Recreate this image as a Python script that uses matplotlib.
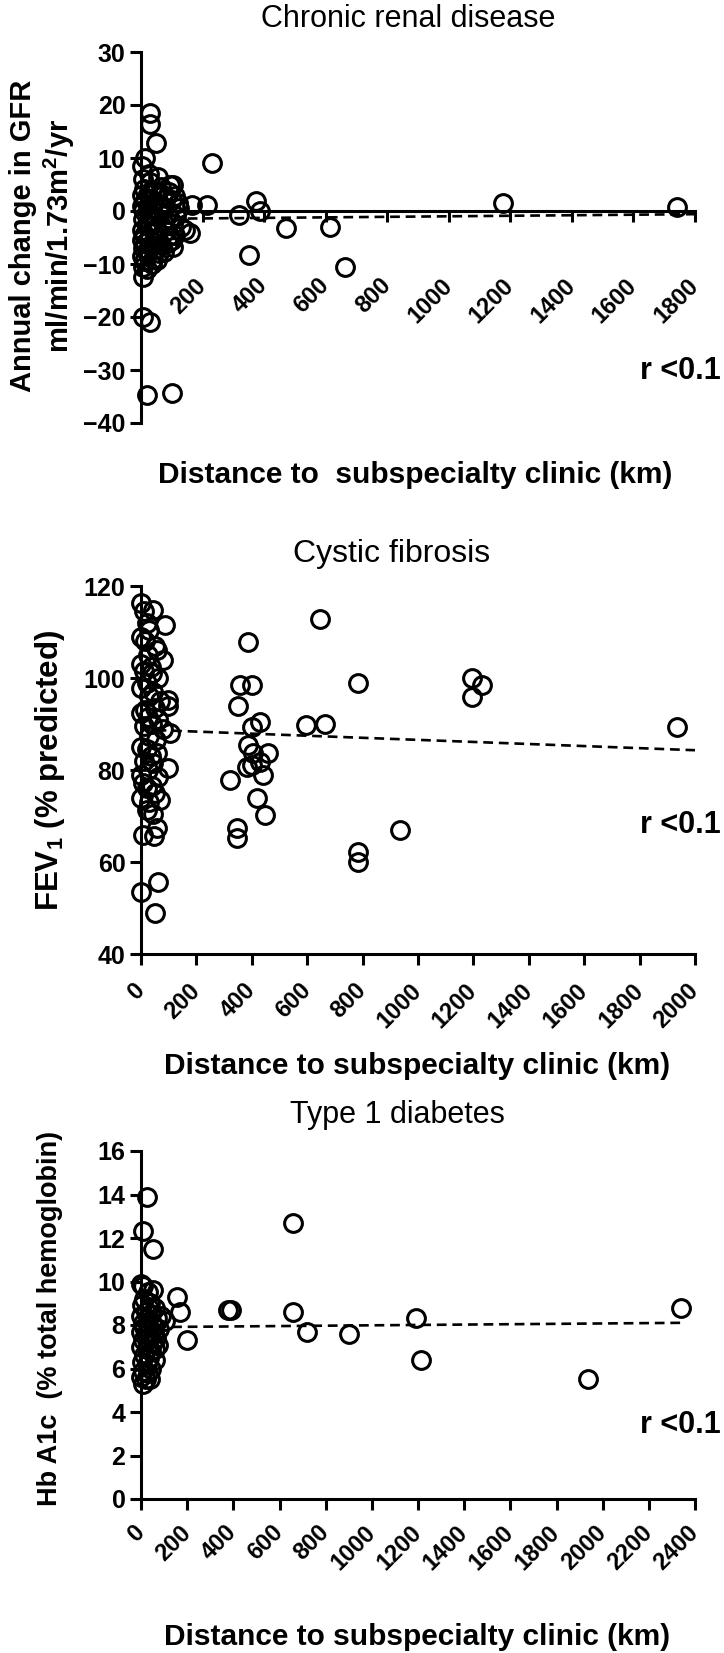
import matplotlib
matplotlib.use("Agg")
import matplotlib.pyplot as plt
from matplotlib.transforms import ScaledTranslation

plt.rcParams['font.family'] = ['Liberation Sans', 'DejaVu Sans']
plt.rcParams['mathtext.fontset'] = 'custom'
plt.rcParams['mathtext.rm'] = 'Liberation Sans'
plt.rcParams['mathtext.bf'] = 'Liberation Sans:bold'

W, H = 724, 1653

# chronic renal disease: distance (km) vs annual change in GFR
crd_km = [30, 30, 50, 3, 12, 6, 55, 25, 105, 95,
          30, 65, 10, 35, 45, 90, 4, 70, 22, 110,
          80, 28, 12, 100, 40, 120, 165, 213, 2, 60,
          75, 33, 125, 8, 26, 15, 85, 45, 115, 5,
          95, 38, 70, 18, 105, 30, 130, 50, 3, 143,
          80, 42, 160, 9, 110, 90, 27, 2, 55, 100,
          14, 88, 36, 65, 105, 6, 48, 20, 75, 60,
          4, 40, 52, 11, 35, 5, 20, 8, 7, 28,
          19, 100, 230, 320, 375, 387, 470, 615, 350, 663,
          1175, 1743]
crd_gfr = [18.5, 16.5, 12.8, 8.5, 10.0, 6.0, 6.5, 7.0, 5.0, 5.0,
           5.5, 4.5, 4.2, 4.0, 3.5, 3.5, 3.0, 3.0, 3.2, 2.8,
           2.5, 2.2, 2.0, 2.0, 1.5, 1.5, 1.2, 1.1, 1.0, 1.0,
           0.8, 0.5, 0.5, 0.2, -0.3, -0.5, -0.5, -1.0, -1.0, -1.5,
           -1.5, -1.8, -2.0, -2.5, -2.5, -2.8, -3.0, -3.2, -3.5, -3.6,
           -3.8, -4.0, -4.2, -4.5, -4.5, -4.8, -5.0, -5.5, -5.5, -5.5,
           -6.0, -6.0, -6.5, -6.5, -6.8, -7.0, -7.2, -7.5, -7.8, -8.0,
           -8.5, -9.0, -9.3, -9.5, -10.0, -10.5, -11.0, -12.5, -20.0, -21.0,
           -34.8, -34.4, 9.1, -0.8, 1.8, 0.0, -3.2, -3.0, -8.3, -10.5,
           1.5, 0.8]
crd_fit_km = [0, 1800]
crd_fit = [-1.5, -0.6]
crd_ticks = [''] + [str(v) for v in range(200, 1801, 200)]

# cystic fibrosis: distance (km) vs FEV1 % predicted
cf_km = [0, 10, 43, 20, 87, 30, 0, 15, 50, 58,
         25, 80, 0, 35, 10, 40, 60, 20, 0, 45,
         30, 98, 98, 70, 0, 15, 50, 25, 62, 40,
         10, 80, 105, 30, 55, 0, 20, 58, 35, 10,
         45, 98, 25, 0, 60, 8, 40, 20, 50, 0,
         69, 30, 22, 45, 8, 58, 47, 0, 62, 51,
         646, 387, 357, 400, 351, 430, 400, 596, 664, 387,
         405, 460, 400, 430, 321, 382, 441, 418, 448, 346,
         346, 783, 1195, 1230, 1195, 1935, 935, 783, 783]
cf_fev1 = [116.3, 114.5, 114.8, 112, 111.5, 110.5, 109, 108, 107, 106,
           105, 104, 103, 102.5, 101.5, 101, 100, 99, 97.8, 97,
           96, 95.2, 94, 95, 92.4, 93, 93.5, 91.5, 91, 90,
           89.5, 89, 88, 87.5, 86.5, 85, 84.5, 83.7, 83, 82,
           81.5, 80.4, 80, 79, 78.5, 77.2, 76.5, 76, 75, 74,
           73.5, 73, 71.3, 70.5, 65.9, 67.4, 65.7, 53.5, 55.7, 49,
           112.8, 107.8, 98.5, 98.5, 94, 90.4, 89.3, 89.8, 90, 85.4,
           83.6, 83.6, 81, 81.7, 77.8, 80.7, 79, 74, 70.2, 67.3,
           65.2, 98.9, 100, 98.5, 95.9, 89.3, 67, 62.2, 60]
cf_fit_km = [0, 2000]
cf_fit = [88.8, 84.3]
cf_ticks = [str(v) for v in range(0, 2001, 200)]

# type 1 diabetes: distance (km) vs Hb A1c
t1d_km = [25, 10, 52, 0, 52, 155, 169, 198, 375, 390,
          660, 660, 718, 899, 1193, 1214, 1938, 2339,
          8, 30, 15, 5, 40, 60, 20, 0, 45, 70,
          104, 10, 30, 55, 80, 0, 20, 40, 65, 10,
          50, 75, 0, 25, 45, 15, 35, 60, 5, 25,
          45, 10, 30, 0, 20, 40, 8, 55, 85, 35,
          12, 62, 28, 48]
t1d_hba1c = [13.9, 12.3, 11.5, 9.9, 9.6, 9.3, 8.6, 7.3, 8.7, 8.7,
             12.7, 8.6, 7.7, 7.6, 8.3, 6.4, 5.5, 8.8,
             9.8, 9.5, 9.2, 8.9, 9.0, 8.8, 8.6, 8.4, 8.5, 8.3,
             8.2, 8.1, 8.0, 7.9, 7.8, 7.7, 7.6, 7.5, 7.4, 7.3,
             7.2, 7.1, 7.0, 6.9, 6.8, 6.6, 6.5, 6.4, 6.3, 6.2,
             6.0, 5.9, 5.8, 5.6, 5.5, 5.5, 5.3, 7.6, 8.4, 8.8,
             7.9, 6.9, 7.3, 8.1]
t1d_fit_km = [0, 2340]
t1d_fit = [7.9, 8.1]
t1d_ticks = [str(v) for v in range(0, 2401, 200)]


def fx(x):
    return x / W


def fy(y):
    return 1 - y / H


def _panel(fig, top, bottom, xs, ys, fit_x, fit_y, xmax, ylim, ystep,
           xlabels, drop_px, zero_spine=False):
    ax = fig.add_axes([fx(141), fy(bottom), fx(554), (bottom - top) / H])
    ax.spines[['top', 'right']].set_visible(False)
    axis_y = ylim[0]
    if zero_spine:
        ax.spines['bottom'].set_position(('data', 0))
        axis_y = 0
    for s in ('left', 'bottom'):
        ax.spines[s].set_linewidth(2.2)

    ax.plot(fit_x, fit_y, color='black', lw=1.9, dashes=(3.7, 2.2), zorder=2)
    ax.plot(xs, ys, 'o', mfc='none', mec='black', ms=12.8, mew=2.2,
            clip_on=False, zorder=3)
    ax.set_xlim(0, xmax)
    ax.set_ylim(*ylim)
    ax.set_yticks(range(ylim[0], ylim[1] + 1, ystep))
    xt = list(range(0, xmax + 1, 200))
    ax.set_xticks(xt)
    for lbl in ax.get_yticklabels():
        lbl.set_fontweight('bold')
    ax.tick_params(width=2.2, length=7.7, labelsize=18)
    ax.tick_params(axis='x', labelbottom=False)

    # rotated distance labels hang below the axis line
    drop = ScaledTranslation(0, -drop_px / 100, fig.dpi_scale_trans)
    for t, s in zip(xt, xlabels):
        ax.text(t, axis_y, s, transform=ax.transData + drop, rotation=45,
                rotation_mode='anchor', ha='right', va='center',
                fontsize=17, fontweight='bold', clip_on=False)
    return ax


fig = plt.figure(figsize=(W / 100, H / 100), dpi=100)

ax1 = _panel(fig, 52, 423, crd_km, crd_gfr, crd_fit_km, crd_fit,
             1800, (-40, 30), 10, crd_ticks, 71, zero_spine=True)
ax2 = _panel(fig, 586, 954, cf_km, cf_fev1, cf_fit_km, cf_fit,
             2000, (40, 120), 20, cf_ticks, 33)
ax3 = _panel(fig, 1151, 1499, t1d_km, t1d_hba1c, t1d_fit_km, t1d_fit,
             2400, (0, 16), 2, t1d_ticks, 30)

# titles
fig.text(fx(408), fy(19), 'Chronic renal disease', fontsize=22, ha='center', va='center')
fig.text(fx(392), fy(554), 'Cystic fibrosis', fontsize=23, ha='center', va='center')
fig.text(fx(397), fy(1115), 'Type 1 diabetes', fontsize=22, ha='center', va='center')

# x labels
fig.text(fx(415), fy(475), 'Distance to  subspecialty clinic (km)', fontsize=21.5,
         fontweight='bold', ha='center', va='center')
fig.text(fx(417), fy(1066), 'Distance to subspecialty clinic (km)', fontsize=21.5,
         fontweight='bold', ha='center', va='center')
fig.text(fx(417), fy(1651), 'Distance to subspecialty clinic (km)', fontsize=21.5,
         fontweight='bold', ha='center', va='bottom')

# y labels
fig.text(fx(43), fy(236), 'Annual change in GFR\nml/min/1.73m$^\\mathbf{2}$/yr', fontsize=21,
         fontweight='bold', rotation=90, ha='center', va='center', linespacing=1.15)
fig.text(fx(50), fy(770), 'FEV$_\\mathbf{1}$ (% predicted)', fontsize=22.5,
         fontweight='bold', rotation=90, ha='center', va='center')
fig.text(fx(50), fy(1318), 'Hb A1c  (% total hemoglobin)', fontsize=19.5,
         fontweight='bold', rotation=90, ha='center', va='center')

# correlation notes
for yy in (371, 825, 1425):
    fig.text(fx(721), fy(yy), 'r <0.1', fontsize=22, fontweight='bold',
             ha='right', va='center')

fig.savefig('out.png', dpi=100)
